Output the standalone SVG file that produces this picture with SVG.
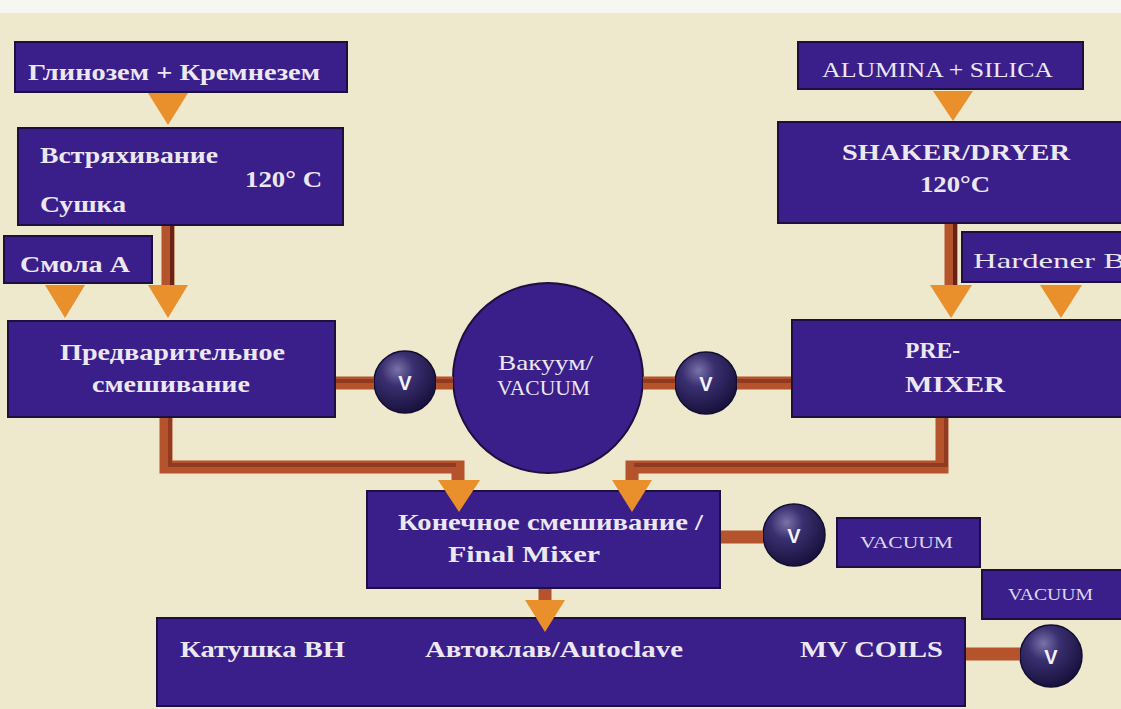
<svg xmlns="http://www.w3.org/2000/svg" width="1121" height="709" viewBox="0 0 1121 709">
<style>
.box{fill:#3a1f8a;stroke:#1c1040;stroke-width:2}
.t{fill:#ece8f2;font-family:"Liberation Serif",serif;font-weight:bold;font-size:23px}
.r{fill:#ece8f2;font-family:"Liberation Serif",serif;font-size:21px}
.s{fill:#dcd8ea;font-family:"Liberation Serif",serif;font-size:17px}
.arr{fill:#e98f2c}
.pipe{fill:none;stroke:#b5532c;stroke-width:13}
.pipe2{fill:none;stroke:#6a2216;stroke-width:4}
.vt{fill:#f4f2fa;font-family:"Liberation Sans",sans-serif;font-weight:bold;font-size:20px;text-anchor:middle}
</style>
<defs>
<radialGradient id="vg" cx="0.38" cy="0.3" r="0.75">
<stop offset="0" stop-color="#7a72a8"/>
<stop offset="0.35" stop-color="#3a2f70"/>
<stop offset="1" stop-color="#150f38"/>
</radialGradient>
</defs>
<rect x="0" y="0" width="1121" height="709" fill="#eee9cc"/>
<rect x="0" y="0" width="1121" height="13" fill="#f6f6f2"/>

<g id="n-glinozem">
<rect class="box" x="15" y="42" width="332" height="50"/>
<text class="t" x="28" y="80" textLength="292" lengthAdjust="spacingAndGlyphs">Глинозем + Кремнезем</text>
</g>
<g id="n-shaker-ru">
<rect class="box" x="18" y="128" width="325" height="97"/>
<text class="t" x="40" y="163" textLength="178" lengthAdjust="spacingAndGlyphs">Встряхивание</text>
<text class="t" x="245" y="187" textLength="77" lengthAdjust="spacingAndGlyphs">120° C</text>
<text class="t" x="40" y="212" textLength="86" lengthAdjust="spacingAndGlyphs">Сушка</text>
</g>
<g id="n-smola">
<rect class="box" x="4" y="236" width="148" height="47"/>
<text class="t" x="20" y="272" textLength="110" lengthAdjust="spacingAndGlyphs">Смола А</text>
</g>
<g id="n-premix-ru">
<rect class="box" x="8" y="321" width="327" height="96"/>
<text class="t" x="60" y="360" textLength="225" lengthAdjust="spacingAndGlyphs">Предварительное</text>
<text class="t" x="92" y="392" textLength="158" lengthAdjust="spacingAndGlyphs">смешивание</text>
</g>
<g id="n-valve1">
<circle cx="405" cy="382" r="31" fill="url(#vg)" stroke="#120c30" stroke-width="1.5"/>
<text class="vt" x="405" y="390">V</text>
</g>
<g id="n-vacuum-main">
<circle cx="548" cy="378" r="95" fill="#3a1f8a" stroke="#1c1040" stroke-width="2"/>
<text class="r" x="498" y="370" textLength="95" lengthAdjust="spacingAndGlyphs">Вакуум/</text>
<text class="r" x="497" y="395" textLength="93" lengthAdjust="spacingAndGlyphs">VACUUM</text>
</g>
<g id="n-valve2">
<circle cx="706" cy="383" r="31" fill="url(#vg)" stroke="#120c30" stroke-width="1.5"/>
<text class="vt" x="706" y="391">V</text>
</g>
<g id="n-alumina">
<rect class="box" x="798" y="42" width="285" height="47"/>
<text class="r" x="822" y="77" textLength="231" lengthAdjust="spacingAndGlyphs">ALUMINA + SILICA</text>
</g>
<g id="n-shaker-en">
<rect class="box" x="778" y="122" width="350" height="101"/>
<text class="t" x="842" y="160" textLength="228" lengthAdjust="spacingAndGlyphs">SHAKER/DRYER</text>
<text class="t" x="920" y="192" textLength="70" lengthAdjust="spacingAndGlyphs">120°C</text>
</g>
<g id="n-hardener">
<rect class="box" x="962" y="232" width="165" height="50"/>
<text class="r" x="973" y="268" font-size="23" textLength="152" lengthAdjust="spacingAndGlyphs">Hardener B</text>
</g>
<g id="n-premix-en">
<rect class="box" x="792" y="320" width="335" height="97"/>
<text class="t" x="905" y="358" textLength="55" lengthAdjust="spacingAndGlyphs">PRE-</text>
<text class="t" x="905" y="392" textLength="100" lengthAdjust="spacingAndGlyphs">MIXER</text>
</g>
<g id="n-final">
<rect class="box" x="367" y="491" width="353" height="97"/>
<text class="t" x="398" y="530" textLength="305" lengthAdjust="spacingAndGlyphs">Конечное смешивание /</text>
<text class="t" x="448" y="562" textLength="152" lengthAdjust="spacingAndGlyphs">Final  Mixer</text>
</g>
<g id="n-valve3">
<circle cx="794" cy="535" r="31" fill="url(#vg)" stroke="#120c30" stroke-width="1.5"/>
<text class="vt" x="794" y="543">V</text>
</g>
<g id="n-vacuum1">
<rect class="box" x="837" y="518" width="143" height="49"/>
<text class="s" x="860" y="548" textLength="93" lengthAdjust="spacingAndGlyphs">VACUUM</text>
</g>
<g id="n-vacuum2">
<rect class="box" x="982" y="570" width="145" height="49"/>
<text class="s" x="1008" y="600" textLength="85" lengthAdjust="spacingAndGlyphs">VACUUM</text>
</g>
<g id="n-autoclave">
<rect class="box" x="157" y="618" width="808" height="88"/>
<text class="t" x="180" y="657" textLength="165" lengthAdjust="spacingAndGlyphs">Катушка ВН</text>
<text class="t" x="425" y="657" textLength="258" lengthAdjust="spacingAndGlyphs">Автоклав/Autoclave</text>
<text class="t" x="800" y="657" textLength="143" lengthAdjust="spacingAndGlyphs">MV COILS</text>
</g>
<g id="n-valve4">
<circle cx="1051" cy="656" r="31" fill="url(#vg)" stroke="#120c30" stroke-width="1.5"/>
<text class="vt" x="1051" y="664">V</text>
</g>

<g id="connectors">
<path class="pipe" d="M168,226 V288"/>
<path class="pipe2" d="M172,226 V286"/>
<path class="pipe" d="M951,224 V288"/>
<path class="pipe2" d="M955,224 V286"/>
<path class="pipe" d="M336,383 H374 M436,383 H453 M643,383 H675 M737,383 H791"/>
<path class="pipe2" d="M336,381 H374 M436,381 H453 M643,381 H675 M737,381 H791" stroke-opacity="0.5"/>
<path class="pipe" d="M166,418 V467 H458 V482"/>
<path class="pipe2" d="M170,418 V465 H456" stroke-opacity="0.5"/>
<path class="pipe" d="M942,418 V467 H632 V482"/>
<path class="pipe2" d="M946,418 V465 H634" stroke-opacity="0.5"/>
<path class="pipe" d="M721,537 H763"/>
<path class="pipe" d="M545,589 V604"/>
<path class="pipe" d="M966,654 H1020"/>
<polygon class="arr" points="148,93 188,93 168,125"/>
<polygon class="arr" points="933,91 973,91 953,121"/>
<polygon class="arr" points="45,285 85,285 65,318"/>
<polygon class="arr" points="148,285 188,285 168,318"/>
<polygon class="arr" points="930,285 972,285 951,318"/>
<polygon class="arr" points="1040,285 1082,285 1061,318"/>
<polygon class="arr" points="438,480 480,480 459,512"/>
<polygon class="arr" points="612,480 652,480 632,512"/>
<polygon class="arr" points="525,600 565,600 545,632"/>
</g>
</svg>
